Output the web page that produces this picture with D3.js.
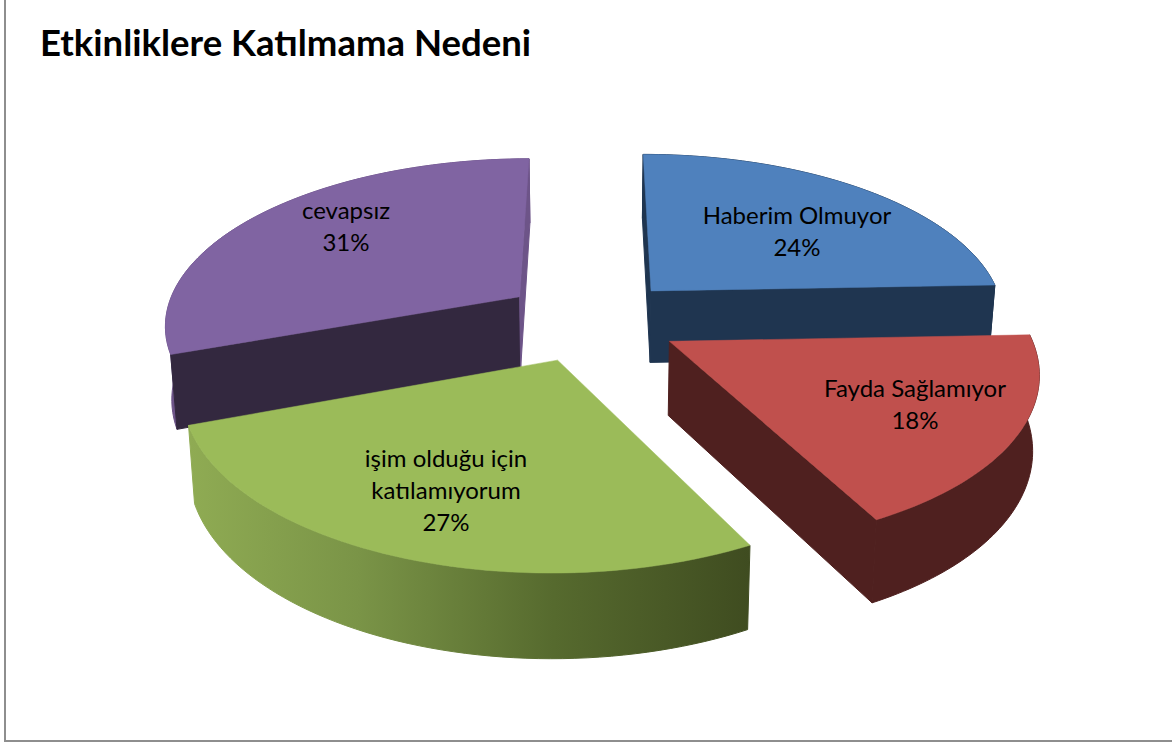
<!DOCTYPE html>
<html><head><meta charset="utf-8">
<script src="https://cdn.jsdelivr.net/npm/d3@7/dist/d3.min.js"></script>
<style>html,body{margin:0;padding:0;background:#fff;overflow:hidden}svg{display:block}</style>
</head><body><svg id="c" width="1172" height="743"></svg>
<script>
const titleText = "Etkinliklere Katılmama Nedeni";
const categories = ["Haberim Olmuyor","Fayda Sağlamıyor","işim olduğu için katılamıyorum","cevapsız"];
const values = [24.4,18,27,30.6];
const labelLines = [["Haberim Olmuyor","24%"],["Fayda Sağlamıyor","18%"],["işim olduğu için","katılamıyorum","27%"],["cevapsız","31%"]];
const topColors = ["#4f81bd","#c0504d","#9bbb59","#8064a2"];
const outerColors = ["#1f3550","#4f201f","url(#greenSide)","#6d5488"];
const startWallColors = ["#1f3550",null,null,"#33283f"];
const endWallColors = ["#1f3550","#4f201f",null,"#6d5488"];
const labelX = [797,915,446,346];
const labelY = [216,389,459,211];

const svg = d3.select("#c");
const cx=591, cy=320, Rx=356, Ry=166, k=0.155, depth=73, kd=0.12, shrink=0.985, explode=0.25;
const ground = d3.scaleLinear().domain([-1,1]).range([-1,1]);
function proj(X,Y,bottom){
  const den=1+k*Y;
  let x=cx+Rx*ground(X)/den, y=cy-Ry*ground(Y)/den;
  if(bottom){ y+=depth/(1+kd*Y); x=cx+(x-cx)*shrink; }
  return [x,y];
}
const pie=d3.pie().sort(null).value(d=>d)(values);
const line=d3.line();
const slices=pie.map((d,i)=>{
  const mid=(d.startAngle+d.endAngle)/2;
  const ox=explode*Math.sin(mid), oy=explode*Math.cos(mid);
  const n=60;
  const angles=d3.range(n+1).map(j=>d.startAngle+(d.endAngle-d.startAngle)*j/n);
  const rim=b=>angles.map(a=>proj(ox+Math.sin(a),oy+Math.cos(a),b));
  return {i,apex:proj(ox,oy,false),apexB:proj(ox,oy,true),rimT:rim(false),rimB:rim(true)};
});
const defs=svg.append("defs");
const grad=defs.append("linearGradient").attr("id","greenSide").attr("gradientUnits","userSpaceOnUse")
  .attr("x1",190).attr("x2",750).attr("y1",0).attr("y2",0);
[[0,"#8fab53"],[0.3,"#7a9447"],[0.65,"#566a2e"],[1,"#3f4c20"]].forEach(s=>grad.append("stop").attr("offset",s[0]).attr("stop-color",s[1]));
const g=svg.append("g");
function poly(pts,fill,sw){ g.append("path").attr("d",line(pts)+"Z").attr("fill",fill).attr("stroke",fill).attr("stroke-width",sw); }
function drawSlice(s){
  const i=s.i, e=s.rimT.length-1;
  poly(s.rimT.concat(s.rimB.slice().reverse()),outerColors[i],1);
  if(startWallColors[i]) poly([s.apex,s.rimT[0],s.rimB[0],s.apexB],startWallColors[i],1);
  if(endWallColors[i]) poly([s.apex,s.rimT[e],s.rimB[e],s.apexB],endWallColors[i],1);
  poly([s.apex].concat(s.rimT),topColors[i],0.5);
}
[3,0,2,1].forEach(i=>drawSlice(slices[i]));
const lab=svg.append("g").attr("font-family","Lato, sans-serif").attr("font-size",24).attr("fill","#000").attr("text-anchor","middle");
labelLines.forEach((ls,i)=>ls.forEach((t,j)=>lab.append("text").attr("x",labelX[i]).attr("y",labelY[i]+j*32).attr("dy","0.35em").text(t)));
svg.append("text").attr("x",40).attr("y",56).attr("font-family","Lato, sans-serif").attr("font-weight",700).attr("font-size",36.5).attr("fill","#000").text(titleText);
svg.append("rect").attr("x",5).attr("y",-5).attr("width",1180).attr("height",746).attr("fill","none").attr("stroke","#8e8e8e").attr("stroke-width",2);
</script></body></html>
